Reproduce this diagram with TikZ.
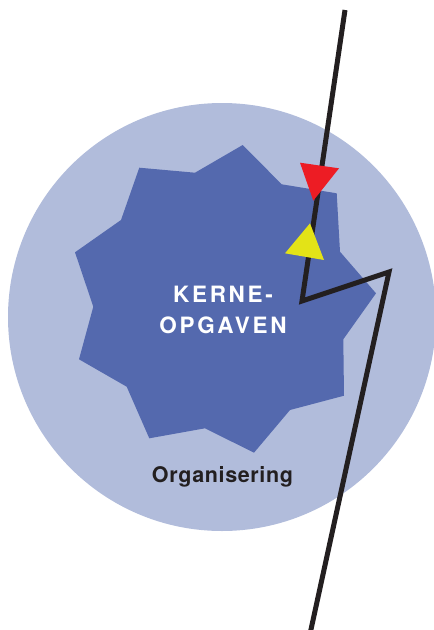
\documentclass[tikz,border=0pt]{standalone}
\usepackage{fontspec}
\setmainfont{TeX Gyre Heros}
\newfontfamily\spacedfont[LetterSpace=12]{TeX Gyre Heros}
\newfontfamily\looseFont[LetterSpace=3]{TeX Gyre Heros}
\usepackage{tikz}
\definecolor{lightblue}{HTML}{B1BCDB}
\definecolor{coreblue}{HTML}{5469AE}
\definecolor{arrowred}{HTML}{ED1C24}
\definecolor{arrowyellow}{HTML}{E3E317}
\definecolor{inkblack}{HTML}{231F20}
\tikzset{kerne/.style = {text=white,font=\spacedfont\bfseries\fontsize{22.5}{26}\selectfont,inner sep=0pt},
  organ/.style = {text=inkblack,font=\looseFont\bfseries\fontsize{21.5}{25}\selectfont,inner sep=0pt},
  zigzag/.style = {draw=inkblack,line width=5pt,line join=miter}}

\begin{document}
\begin{tikzpicture}[x=1pt,y=-1pt]
\useasboundingbox (0,0) rectangle (434,630);
%background circle
\fill[lightblue] (222,317) circle (214pt);
%star of the core tasks
\fill[coreblue] (242.7,145) -- (281.7,184.3) -- (336.7,193.3) -- (340,251.7) -- (376,293.3) -- (343.3,339.3) -- (344,395.7) -- (290,410) -- (254,452.7) -- (205,428.3) -- (149.3,438.3) -- (126.7,386.7) -- (79,359.3) -- (93.3,306.7) -- (75,252.3) -- (121,220) -- (139.3,167.7) -- (195,172.7) -- cycle;
%labels
\node[kerne,anchor=base] (kerne) at (223,302) {KERNE-};
\node[kerne,anchor=base] (opgaven) at (223,333) {OPGAVEN};
\node[organ,anchor=base] (organisering) at (222.5,482) {Organisering};
%zigzag line
\coordinate (top) at (345,10);
\coordinate (bend1) at (302,301);
\coordinate (bend2) at (389,272);
\coordinate (bottom) at (310,634);
\draw[zigzag] (top) -- (bend1) -- (bend2) -- (bottom);
%triangles on the line
\fill[arrowred] (300,162.7) -- (339,168.3) -- (313.3,200.7) -- cycle;
\fill[arrowyellow] (310,223.3) -- (285,253.3) -- (324,260) -- cycle;
\end{tikzpicture}
\end{document}
